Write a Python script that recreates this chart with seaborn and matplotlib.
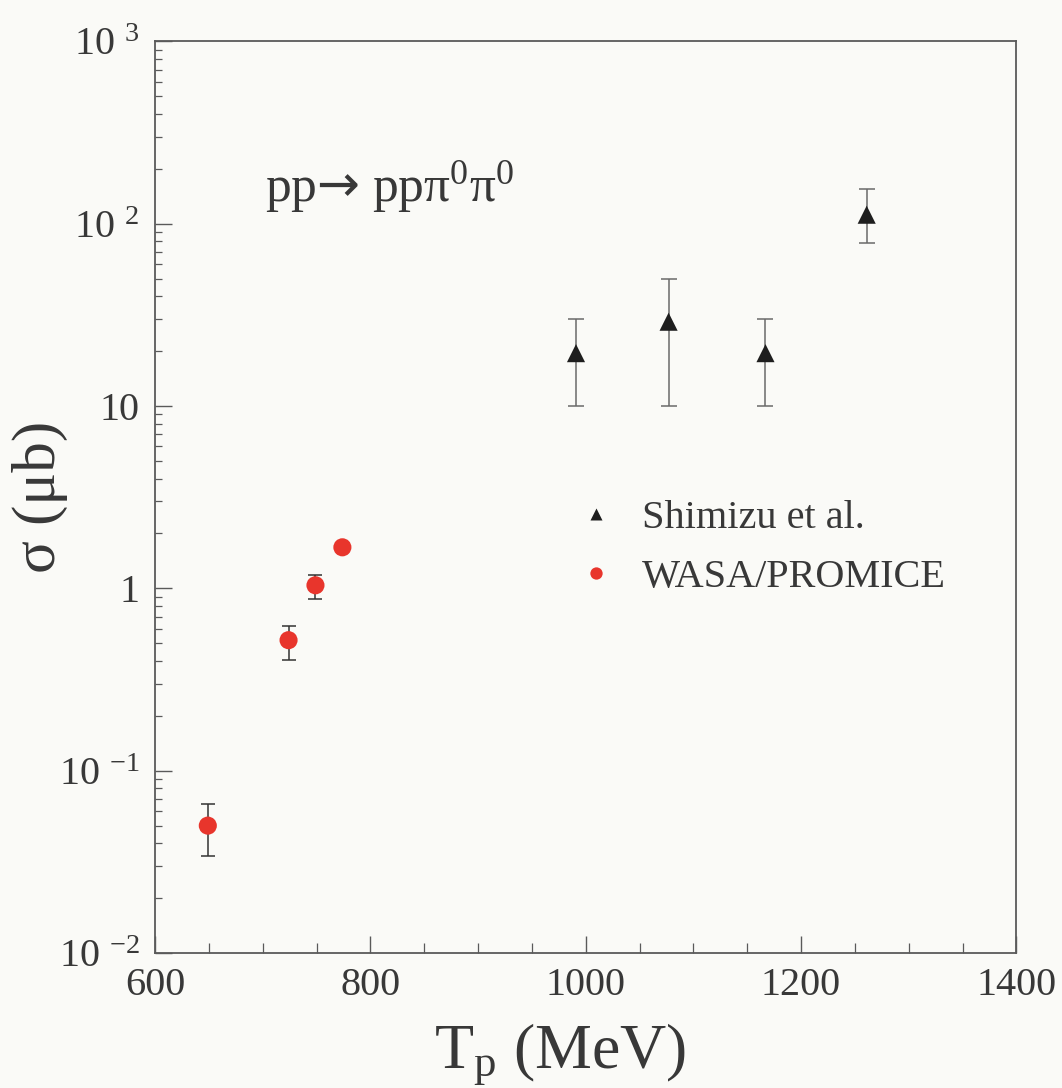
import numpy as np
import pandas as pd
import matplotlib
matplotlib.use("Agg")
import matplotlib.pyplot as plt
from matplotlib.ticker import FixedLocator, FixedFormatter, LogLocator, MultipleLocator, NullFormatter
import seaborn as sns

# Shimizu et al. measurements
shimizu_tp = [991, 1077, 1167, 1261]
shimizu_sigma = [19.5, 29.0, 19.5, 112.0]
shimizu_lo = [10.0, 10.0, 10.0, 78.0]
shimizu_hi = [30.0, 50.0, 30.0, 155.0]

# WASA/PROMICE measurements
wasa_tp = [649, 724, 749, 774]
wasa_sigma = [0.050, 0.52, 1.04, 1.68]
wasa_lo = [0.034, 0.405, 0.875, 1.60]
wasa_hi = [0.066, 0.62, 1.18, 1.76]

series_names = ["Shimizu et al.", "WASA/PROMICE"]
x_ticks = [600, 800, 1000, 1200, 1400]
y_ticks = [1e-2, 1e-1, 1, 10, 1e2, 1e3]
y_tick_labels = ["10$^{\\,\\,\\,\\mathregular{-2}}$", "10$^{\\,\\,\\,\\mathregular{-1}}$", "1", "10",
                 "10$^{\\,\\,\\,2}$", "10$^{\\,\\,\\,3}$"]

sns.set_style("ticks")
plt.rcParams["font.family"] = ["Liberation Serif", "DejaVu Sans"]
plt.rcParams["mathtext.fontset"] = "custom"
plt.rcParams["mathtext.rm"] = "Liberation Serif"
plt.rcParams["mathtext.it"] = "Liberation Serif:italic"
plt.rcParams["mathtext.sf"] = "DejaVu Sans"
plt.rcParams["mathtext.default"] = "rm"

ink = "#383838"
frame = "#5a5a5a"
red = "#e8352c"

df = pd.DataFrame({
    "Tp": shimizu_tp + wasa_tp,
    "sigma": shimizu_sigma + wasa_sigma,
    "set": [series_names[0]] * len(shimizu_tp) + [series_names[1]] * len(wasa_tp),
})

fig = plt.figure(figsize=(10.62, 10.88), dpi=100, facecolor="#fafaf7")
ax = fig.add_axes([0.146, 0.124, 0.811, 0.838])
ax.set_facecolor("#fafaf7")

# error bars
for tp, s, lo, hi, c, cap in [(shimizu_tp, shimizu_sigma, shimizu_lo, shimizu_hi, "#6a6a6a", 5.5),
                              (wasa_tp, wasa_sigma, wasa_lo, wasa_hi, "#333333", 5.0)]:
    s = np.array(s)
    yerr = np.vstack([s - np.array(lo), np.array(hi) - s])
    ax.errorbar(tp, s, yerr=yerr, fmt="none", ecolor=c, elinewidth=1.1,
                capsize=cap, capthick=1.1, zorder=2)

sns.scatterplot(data=df, x="Tp", y="sigma", hue="set", style="set",
                palette={series_names[0]: "#1e1e1e", series_names[1]: red},
                markers={series_names[0]: "^", series_names[1]: "o"},
                s=170, edgecolor="none", ax=ax, zorder=3, legend=True)

ax.set_yscale("log")
ax.set_xlim(600, 1400)
ax.set_ylim(1e-2, 1e3)

ax.xaxis.set_major_locator(FixedLocator(x_ticks))
ax.xaxis.set_minor_locator(MultipleLocator(50))
ax.yaxis.set_major_locator(FixedLocator(y_ticks))
ax.yaxis.set_major_formatter(FixedFormatter(y_tick_labels))
ax.yaxis.set_minor_locator(LogLocator(base=10, subs=np.arange(2, 10)))
ax.yaxis.set_minor_formatter(NullFormatter())

ax.tick_params(axis="both", which="major", direction="in", length=12, width=1.0,
               color=frame, labelsize=29, labelcolor=ink, pad=10)
ax.tick_params(axis="both", which="minor", direction="in", length=5, width=0.9, color=frame)
ax.tick_params(axis="x", which="minor", length=7)
ax.tick_params(axis="y", which="major", pad=11)

for sp in ax.spines.values():
    sp.set_color(frame)
    sp.set_linewidth(1.3)

ax.set_xlabel("T$_\\mathregular{p}$ (MeV)", fontsize=46, color=ink)
ax.xaxis.set_label_coords(0.47, -0.075)
ax.set_ylabel("σ (μb)", fontsize=44, color=ink)
ax.yaxis.set_label_coords(-0.101, 0.50)

ax.text(0.128, 0.84, "pp${\\mathsf{→}}$ ppπ$^{\\mathregular{0}}$π$^{\\mathregular{0}}$",
        transform=ax.transAxes, fontsize=37, color=ink, ha="left", va="center")

leg = ax.legend(loc="upper left", bbox_to_anchor=(0.446, 0.515), frameon=False,
                fontsize=29, markerscale=0.68, handletextpad=0.15, labelspacing=0.55,
                borderaxespad=0, title=None)
for t in leg.get_texts():
    t.set_color(ink)

fig.savefig("out.png", dpi=100, facecolor=fig.get_facecolor())
